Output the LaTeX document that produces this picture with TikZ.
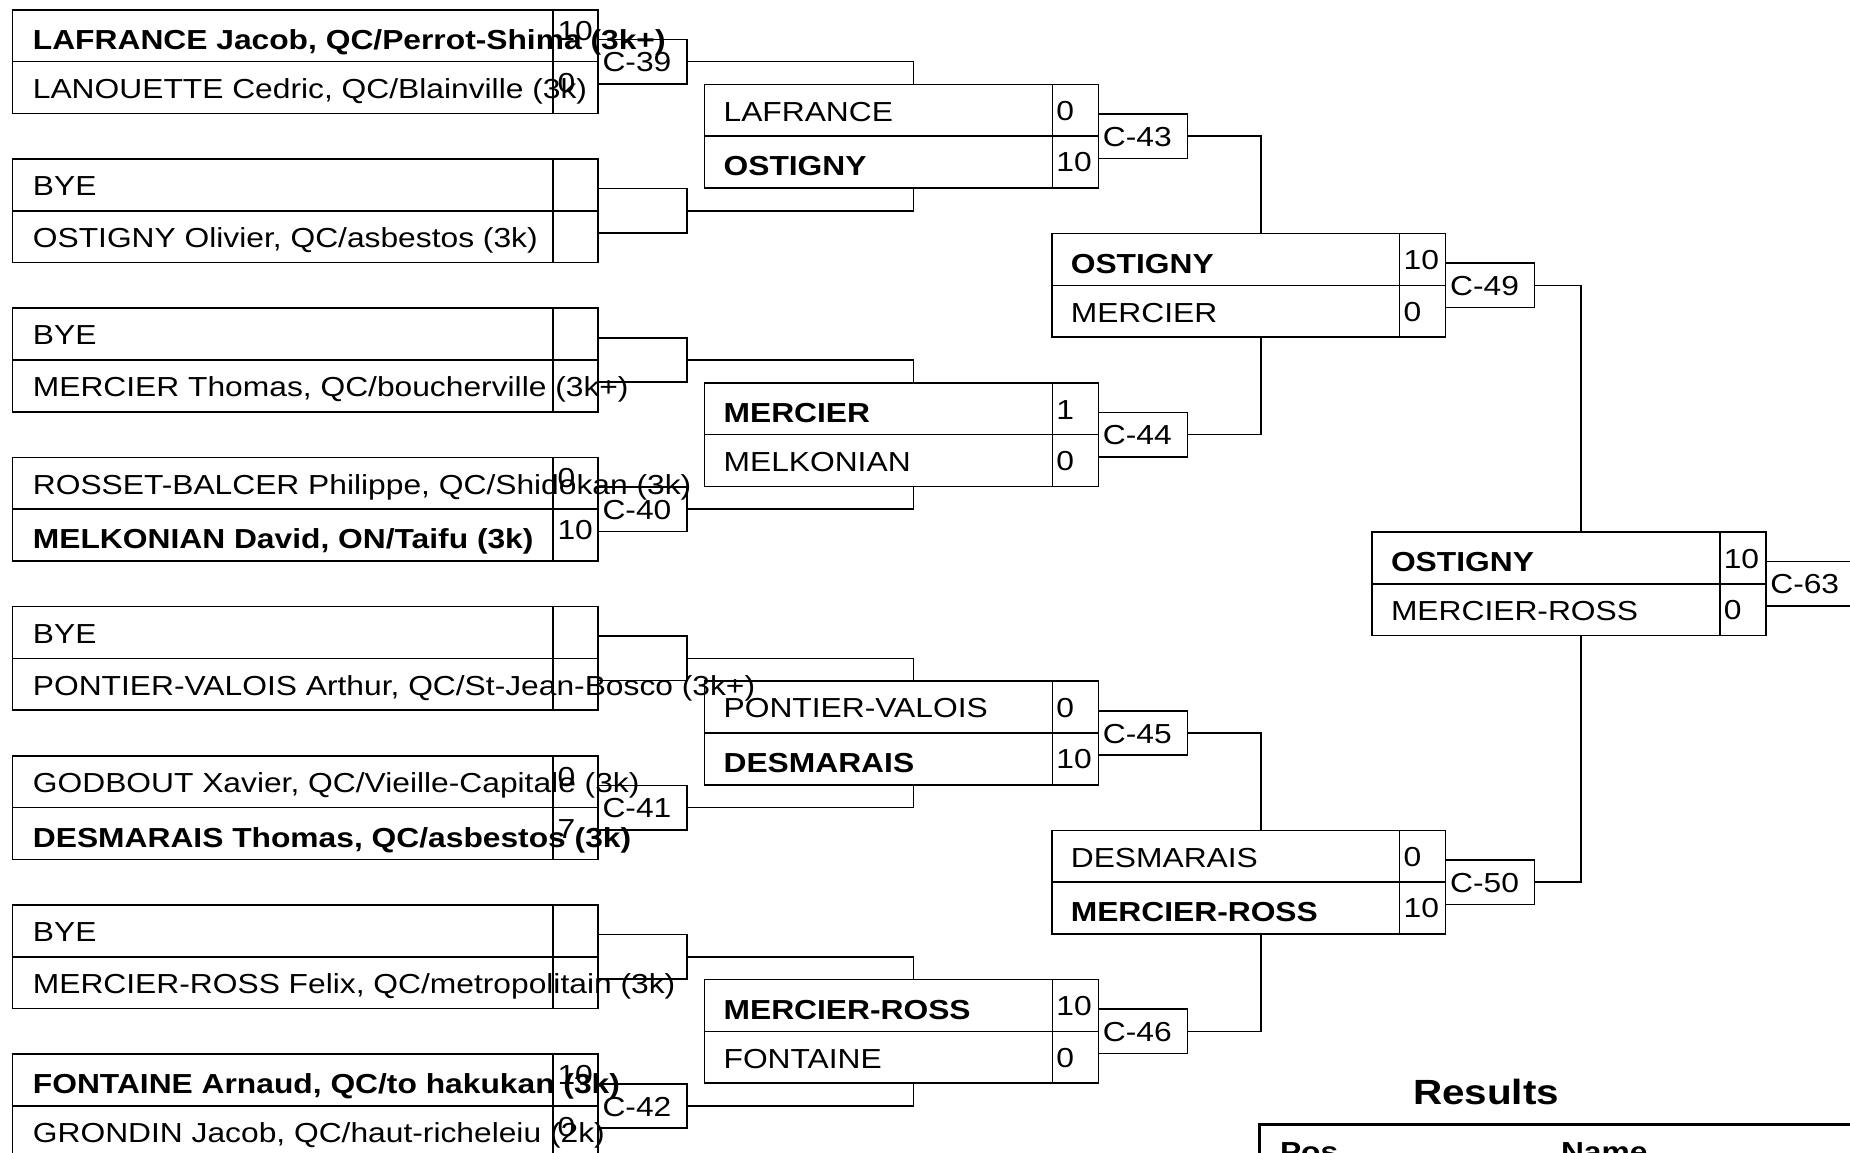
\documentclass[tikz,border=0pt]{standalone}
\usepackage{fontspec}
\setmainfont{Liberation Sans}[FakeStretch=1.155]
\usetikzlibrary{calc}
\newcommand\nfont{\fontsize{13.75pt}{16pt}\selectfont}
% first-round box: name, centre y, text1, score1, text2, score2, style1, style2
\newcommand\boxone[8]{%
  \node[pboxA] (#1) at (12.4,#2) {};
  \draw[link] (#1.west) -- (#1.east);
  \draw[link] ($(#1.north east)+(-45,0)$) -- ($(#1.south east)+(-45,0)$);
  \node[#7] (#1n1) at ($(#1.west)+(20.5,-15.1)$) {#3};
  \node[sc] (#1s1) at ($(#1.east)+(-40.5,-21.4)$) {#4};
  \node[#8] (#1n2) at ($(#1.west)+(20.5,36.7)$) {#5};
  \node[sc] (#1s2) at ($(#1.east)+(-40.5,30.4)$) {#6};
}
% later-round box: name, left x, centre y, text1, score1, text2, score2, style1, style2
\newcommand\boxtwo[9]{%
  \node[pboxB] (#1) at (#2,#3) {};
  \draw[link] (#1.west) -- (#1.east);
  \draw[link] ($(#1.north east)+(-46,0)$) -- ($(#1.south east)+(-46,0)$);
  \node[#8] (#1n1) at ($(#1.west)+(19,-15.1)$) {#4};
  \node[sc] (#1s1) at ($(#1.east)+(-42,-15.6)$) {#5};
  \node[#9] (#1n2) at ($(#1.west)+(19,36.7)$) {#6};
  \node[sc] (#1s2) at ($(#1.east)+(-42,35.7)$) {#7};
}
% match box with label: name, anchor node, label
\newcommand\matchbox[3]{%
  \node[cbox] (#1) at (#2.east) {};
  \node[cl] (#1t) at ($(#1.west)+(4.5,10)$) {#3};
}
\begin{document}
\begin{tikzpicture}[x=0.5pt,y=-0.5pt,
  every node/.style={inner sep=0pt, outer sep=0pt},
  link/.style={line width=0.8pt, line join=miter},
  pboxA/.style={draw, line width=0.8pt, minimum width=292.8pt, minimum height=51.75pt, anchor=west},
  pboxB/.style={draw, line width=0.8pt, minimum width=196.9pt, minimum height=51.75pt, anchor=west},
  cbox/.style={draw, line width=0.8pt, minimum width=44.5pt, minimum height=22.25pt, anchor=west},
  nm/.style={anchor=base west, font=\nfont},
  nmb/.style={anchor=base west, font=\nfont\bfseries, yshift=-1.4pt},
  sc/.style={anchor=base west, font=\nfont},
  cl/.style={anchor=base west, font=\nfont}]
\useasboundingbox (0,0) rectangle (1850,1152);
\fill[white] (0,0) rectangle (1850,1152);
\clip (0,0) rectangle (1850,1152);

% ---- round 1
\boxone{a0}{61.6}{LAFRANCE Jacob, QC/Perrot-Shima (3k+)}{10}{LANOUETTE Cedric, QC/Blainville (3k)}{0}{nmb}{nm}
\boxone{a1}{210.8}{BYE}{}{OSTIGNY Olivier, QC/asbestos (3k)}{}{nm}{nm}
\boxone{a2}{360.0}{BYE}{}{MERCIER Thomas, QC/boucherville (3k+)}{}{nm}{nm}
\boxone{a3}{509.2}{ROSSET-BALCER Philippe, QC/Shidokan (3k)}{0}{MELKONIAN David, ON/Taifu (3k)}{10}{nm}{nmb}
\boxone{a4}{658.4}{BYE}{}{PONTIER-VALOIS Arthur, QC/St-Jean-Bosco (3k+)}{}{nm}{nm}
\boxone{a5}{807.6}{GODBOUT Xavier, QC/Vieille-Capitale (3k)}{0}{DESMARAIS Thomas, QC/asbestos (3k)}{7}{nm}{nmb}
\boxone{a6}{956.8}{BYE}{}{MERCIER-ROSS Felix, QC/metropolitain (3k)}{}{nm}{nm}
\boxone{a7}{1106.0}{FONTAINE Arnaud, QC/to hakukan (3k)}{10}{GRONDIN Jacob, QC/haut-richeleiu (2k)}{0}{nmb}{nm}

\matchbox{c39}{a0}{C-39}
\node[cbox] (bye1) at (a1.east) {};
\node[cbox] (bye2) at (a2.east) {};
\matchbox{c40}{a3}{C-40}
\node[cbox] (bye4) at (a4.east) {};
\matchbox{c41}{a5}{C-41}
\node[cbox] (bye6) at (a6.east) {};
\matchbox{c42}{a7}{C-42}

% ---- round 2
\boxtwo{b0}{704.6}{136.2}{LAFRANCE}{0}{OSTIGNY}{10}{nm}{nmb}
\boxtwo{b1}{704.6}{434.6}{MERCIER}{1}{MELKONIAN}{0}{nmb}{nm}
\boxtwo{b2}{704.6}{733.0}{PONTIER-VALOIS}{0}{DESMARAIS}{10}{nm}{nmb}
\boxtwo{b3}{704.6}{1031.4}{MERCIER-ROSS}{10}{FONTAINE}{0}{nmb}{nm}
\matchbox{c43}{b0}{C-43}
\matchbox{c44}{b1}{C-44}
\matchbox{c45}{b2}{C-45}
\matchbox{c46}{b3}{C-46}

% ---- round 3
\boxtwo{d0}{1051.8}{285.4}{OSTIGNY}{10}{MERCIER}{0}{nmb}{nm}
\boxtwo{d1}{1051.8}{882.2}{DESMARAIS}{0}{MERCIER-ROSS}{10}{nm}{nmb}
\matchbox{c49}{d0}{C-49}
\matchbox{c50}{d1}{C-50}

% ---- final
\boxtwo{e0}{1372}{583.8}{OSTIGNY}{10}{MERCIER-ROSS}{0}{nmb}{nm}
\matchbox{c63}{e0}{C-63}

% ---- connectors round 1 -> 2
\draw[link] (c39.east) -| ($(b0.north west)+(209,0)$);
\draw[link] ($(b0.south west)+(209,0)$) |- (bye1.east);
\draw[link] (bye2.east) -| ($(b1.north west)+(209,0)$);
\draw[link] ($(b1.south west)+(209,0)$) |- (c40.east);
\draw[link] (bye4.east) -| ($(b2.north west)+(209,0)$);
\draw[link] ($(b2.south west)+(209,0)$) |- (c41.east);
\draw[link] (bye6.east) -| ($(b3.north west)+(209,0)$);
\draw[link] ($(b3.south west)+(209,0)$) |- (c42.east);
% round 2 -> 3
\draw[link] (c43.east) -| ($(d0.north west)+(209,0)$);
\draw[link] ($(d0.south west)+(209,0)$) |- (c44.east);
\draw[link] (c45.east) -| ($(d1.north west)+(209,0)$);
\draw[link] ($(d1.south west)+(209,0)$) |- (c46.east);
% round 3 -> final
\draw[link] (c49.east) -| ($(e0.north west)+(209,0)$);
\draw[link] ($(e0.south west)+(209,0)$) |- (c50.east);

% ---- results
\node[anchor=base, font=\fontsize{17.5pt}{20pt}\selectfont\bfseries] (restitle) at (1486,1104) {Results};
\node[draw, line width=1.7pt, anchor=north west, minimum width=350pt, minimum height=100pt] (restab) at (1259.5,1124.5) {};
\node[nmb] (pos) at (1280,1159) {Pos};
\node[nmb] (name) at (1561,1159) {Name};
\end{tikzpicture}
\end{document}
